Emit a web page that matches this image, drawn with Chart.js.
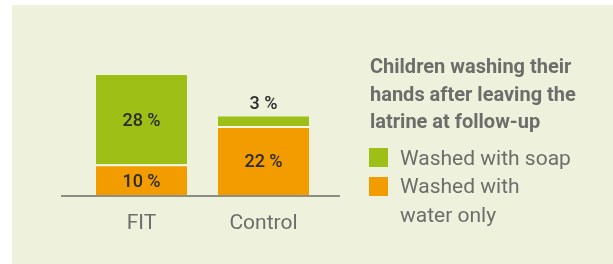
<!DOCTYPE html>
<html>
<head>
<meta charset="utf-8">
<script src="https://cdn.jsdelivr.net/npm/chart.js@4"></script>
<style>
  html, body { margin: 0; padding: 0; background: #ffffff; }
  #wrap { position: relative; width: 613px; height: 264px; overflow: hidden; }
  #panel { position: absolute; left: 12px; top: 5px; right: 0; bottom: 0; background: #eef2dc; }
  #chart { position: absolute; left: 0; top: 0; }
  #legend { position: absolute; left: 369px; top: 53px; width: 240px; font-family: Roboto, "Open Sans", sans-serif; color: #6d6d6b; }
  #legend .title { font-weight: 700; font-size: 20px; line-height: 27.5px; margin-left: 1px; }
  #legend .item { position: relative; margin-top: 0; padding-left: 31px; font-size: 21px; line-height: 28.5px; width: 174px; }
  #legend .title + .item { margin-top: 8px; }
  #legend .swatch { position: absolute; left: 0; top: 4.5px; width: 19px; height: 19px; }
</style>
</head>
<body>
<div id="wrap">
  <div id="panel"></div>
  <canvas id="chart" width="613" height="264"></canvas>
  <div id="legend"></div>
</div>
<script>
// data
const categories = ['FIT', 'Control'];
const waterValues = [10, 22];
const soapValues = [28, 3];
const seriesNames = ['Washed with water only', 'Washed with soap'];
const seriesColors = ['#f39c00', '#9dbf16'];
const legendTitle = ['Children washing their', 'hands after leaving the', 'latrine at follow-up'];

const FONT = 'Roboto, "Open Sans", sans-serif';

// baseline drawn across a bit wider than the bars
const baselinePlugin = {
  id: 'baseline',
  afterDatasetsDraw(chart) {
    const { ctx, chartArea, scales } = chart;
    const y = scales.y.getPixelForValue(0);
    ctx.save();
    ctx.strokeStyle = '#8d8e85';
    ctx.lineWidth = 2;
    ctx.beginPath();
    ctx.moveTo(chartArea.left - 19.5, y);
    ctx.lineTo(chartArea.right + 15.5, y);
    ctx.stroke();
    ctx.restore();
  }
};

// value labels inside each segment, above the bar when the segment is thin
const valueLabelPlugin = {
  id: 'valueLabels',
  afterDatasetsDraw(chart) {
    const { ctx } = chart;
    ctx.save();
    ctx.font = '500 18px ' + FONT;
    ctx.fillStyle = '#2b2b2b';
    ctx.textAlign = 'center';
    ctx.textBaseline = 'middle';
    chart.data.datasets.forEach((ds, di) => {
      const meta = chart.getDatasetMeta(di);
      meta.data.forEach((bar, i) => {
        const v = ds.data[i];
        const top = Math.min(bar.y, bar.base);
        const h = Math.abs(bar.base - bar.y);
        const y = h < 20 ? top - 12 : top + h / 2 + 2;
        ctx.fillText(v + ' %', bar.x, y);
      });
    });
    ctx.restore();
  }
};

const chart = new Chart(document.getElementById('chart'), {
  type: 'bar',
  data: {
    labels: categories,
    datasets: [
      {
        label: seriesNames[0],
        data: waterValues,
        backgroundColor: seriesColors[0],
        borderColor: '#f6f8ea',
        borderWidth: { top: 2, right: 0, bottom: 0, left: 0 },
        borderSkipped: false
      },
      {
        label: seriesNames[1],
        data: soapValues,
        backgroundColor: seriesColors[1],
        borderWidth: 0
      }
    ]
  },
  options: {
    responsive: false,
    animation: false,
    devicePixelRatio: 1,
    barPercentage: 0.746,
    categoryPercentage: 1,
    layout: { padding: { left: 80.5, right: 288.5, top: 75, bottom: 20.8 } },
    plugins: {
      legend: { display: false },
      tooltip: { enabled: false }
    },
    scales: {
      x: {
        stacked: true,
        grid: { display: false },
        border: { display: false },
        ticks: { color: '#6d6d6b', font: { family: FONT, size: 21 }, padding: 7 }
      },
      y: {
        stacked: true,
        display: false,
        min: 0,
        max: 38
      }
    }
  },
  plugins: [baselinePlugin, valueLabelPlugin]
});

// html legend built from the datasets, top series first
const legendEl = document.getElementById('legend');
let html = '<div class="title">' + legendTitle.join('<br>') + '</div>';
chart.data.datasets.slice().reverse().forEach(ds => {
  html += '<div class="item"><span class="swatch" style="background:' + ds.backgroundColor + '"></span>' + ds.label + '</div>';
});
legendEl.innerHTML = html;
</script>
</body>
</html>
